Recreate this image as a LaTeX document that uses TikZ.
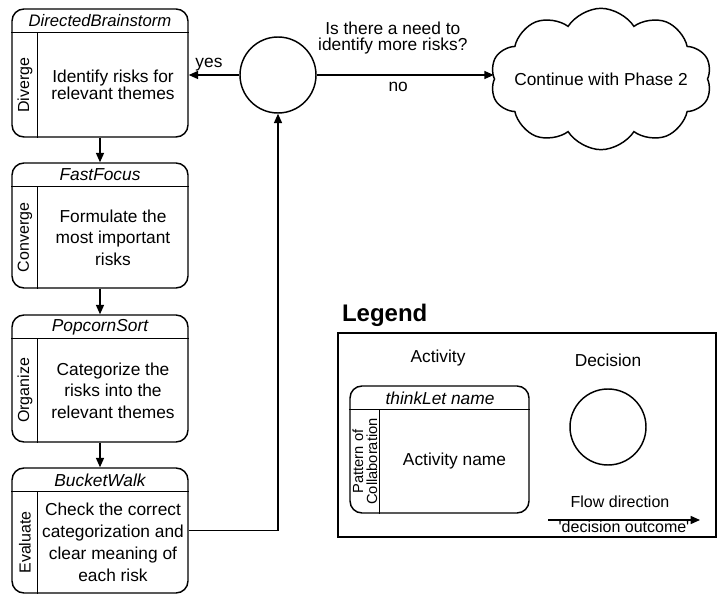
\documentclass[tikz,border=0pt]{standalone}
\usepackage{fontspec}
\setmainfont{Liberation Sans}
\usepackage{tikz}
\usetikzlibrary{arrows.meta,shapes.geometric,shapes.symbols,positioning}

\tikzset{
	act/.style={draw, rounded corners=9pt, minimum width=132pt, inner sep=0pt},
	tname/.style={font=\fontsize{13}{15}\selectfont\itshape, inner sep=0pt},
	body/.style={align=center, inner sep=0pt},
	patt/.style={rotate=90, align=center, inner sep=0pt, font=\fontsize{12}{12}\selectfont},
	dec/.style={draw, circle, minimum size=57pt, inner sep=0pt}
}

\begin{document}
\begin{tikzpicture}[x=0.75pt, y=-0.75pt, line width=1.1pt, >={Triangle[length=7pt,width=6pt]}, font=\fontsize{13}{16}\selectfont]
	\useasboundingbox (0,0) rectangle (718,595);
	%Attivita'
	\node[act, minimum height=96pt] (db) at (100,73) {};
	\node[act, minimum height=93.75pt] (ff) at (100,225.5) {};
	\node[act, minimum height=95.25pt] (ps) at (100,378.5) {};
	\node[act, minimum height=93.75pt] (bw) at (100,530.5) {};
	\foreach \b in {db,ff,ps,bw}{
		\draw ([yshift=-18pt]\b.north west) -- ([yshift=-18pt]\b.north east);
		\draw ([xshift=19.5pt,yshift=-18pt]\b.north west) -- ([xshift=19.5pt]\b.south west);
	}
	\node[tname, font=\fontsize{12.5}{15}\selectfont\itshape] (dbn) at (100,21) {DirectedBrainstorm};
	\node[tname] (ffn) at (100,175) {FastFocus};
	\node[tname] (psn) at (100,327) {PopcornSort};
	\node[tname] (bwn) at (100,480) {BucketWalk};
	\node[patt] (dbp) at (25,85) {Diverge};
	\node[patt] (ffp) at (25,237.5) {Converge};
	\node[patt] (psp) at (25,390.5) {Organize};
	\node[patt] (bwp) at (25,542.5) {Evaluate};
	\node[body, font=\fontsize{13}{12.5}\selectfont] (dbb) at (113,85) {Identify risks for\\relevant themes};
	\node[body] (ffb) at (113,237.5) {Formulate the\\most important\\risks};
	\node[body] (psb) at (113,390.5) {Categorize the\\risks into the\\relevant themes};
	\node[body, font=\fontsize{13}{16.5}\selectfont] (bwb) at (113,542.5) {Check the correct\\categorization and\\clear meaning of\\each risk};
	\draw [->] (db.south) -- (ff.north);
	\draw [->] (ff.south) -- (ps.north);
	\draw [->] (ps.south) -- (bw.north);
	%Decisione
	\node[dec] (d) at (278,75) {};
	\node[draw, cloud, cloud puffs=10, cloud puff arc=115, aspect=1.6, minimum width=166pt, minimum height=106pt, inner sep=0pt] (p2) at (601,79) {};
	\node (p2t) at (p2.center) {Continue with Phase 2};
	\draw [->] (d.west) -- (d.west -| db.east) node [pos=0.6, above, inner sep=2pt] {yes};
	\draw [->] (d.east) -- (d.east -| p2.west)
		node [pos=0.46, below=5pt, inner sep=0pt] {no}
		node [pos=0.43, above=15pt, inner sep=0pt, align=center, font=\fontsize{13}{12}\selectfont] {Is there a need to\\identify more risks?};
	\draw [->] (bw.east) -| (d.south);
	%Legenda
	\node[draw, minimum width=283.5pt, minimum height=153pt, inner sep=0pt] (leg) at (527,435) {};
	\node[above right=4pt and 3pt of leg.north west, inner sep=0pt, font=\fontsize{18}{20}\selectfont\bfseries] (legt) {Legend};
	\node (la-t) at (438,358) {Activity};
	\node (ld-t) at (608,360) {Decision};
	\node[act, minimum width=134.25pt, minimum height=95.25pt] (la) at (439.5,449.5) {};
	\draw ([yshift=-18pt]la.north west) -- ([yshift=-18pt]la.north east);
	\draw ([xshift=22.5pt,yshift=-18pt]la.north west) -- ([xshift=22.5pt]la.south west);
	\node[tname] (lan) at (440,398) {thinkLet name};
	\node[patt, font=\fontsize{11}{10.5}\selectfont] (lap) at (365,461.5) {Pattern of\\Collaboration};
	\node[body] (lab) at (454.5,461.5) {Activity name};
	\node[dec] (ld) at (608,427) {};
	\node[font=\fontsize{12}{14}\selectfont] (lf-t) at (620,502) {Flow direction};
	\coordinate (fa) at (548,520);
	\coordinate (fb) at (700,520);
	\draw [->] (fa) -- (fb) node [midway, below=0.5pt, inner sep=0pt, font=\fontsize{12}{14}\selectfont] {\textquotesingle decision outcome\textquotesingle};
\end{tikzpicture}
\end{document}
